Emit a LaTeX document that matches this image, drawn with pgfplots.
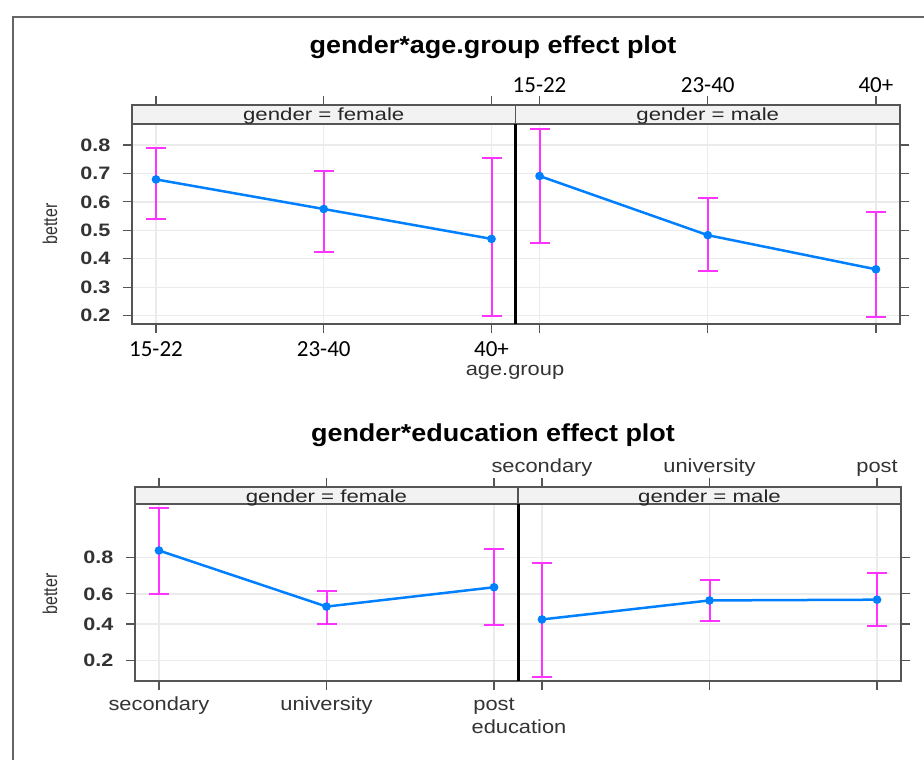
\documentclass[border=0pt]{standalone}
\usepackage{fontspec}
\setmainfont{Liberation Sans}
\newfontfamily\carl{Carlito}
\usepackage{pgfplots}
\pgfplotsset{compat=1.18}

\definecolor{fitblue}{HTML}{0080FF}
\definecolor{cimag}{HTML}{FF33FF}
\definecolor{gridgray}{HTML}{EBEBEB}
\definecolor{stripgray}{HTML}{F2F2F2}
\definecolor{framegray}{HTML}{555555}

\newcommand{\fs}[1]{\fontsize{#1}{#1}\selectfont}

\tikzset{strip/.style={fill=stripgray, draw=framegray, line width=1.5bp}}

\pgfplotsset{
  panel/.style={
    scale only axis, anchor=south west, clip=false,
    xmin=0.857, xmax=3.143, xtick={1,2,3},
    tick align=outside, major tick length=9bp,
    tick style={framegray, line width=1.2bp},
    axis line style={framegray, line width=1.5bp},
    grid=major, grid style={gridgray, line width=1.3bp},
    yticklabel style={font=\bfseries\fs{18bp}, xscale=1.2, text=black!80, xshift=-7bp},
  },
  agepanel/.style={panel, height=219bp,
    ymin=0.1708, ymax=0.9406,
    ytick={0.2,0.3,0.4,0.5,0.6,0.7,0.8},
    xticklabels={15-22,23-40,40+},
    xticklabel style={font=\carl\fs{23bp}, text=black},
  },
  edupanel/.style={panel, height=194bp,
    y coord trafo/.code={\pgfmathparse{ln(##1/(1-##1))}},
    y coord inv trafo/.code={\pgfmathparse{1/(1+exp(-##1))}},
    ymin=0.1244, ymax=0.9637,
    ytick={0.2,0.4,0.6,0.8},
    xticklabels={secondary,university,post},
    xticklabel style={font=\fs{19bp}, xscale=1.15, text=black!80,
      text height=13bp, text depth=4bp},
  },
  ci/.style={cimag, line width=2bp, mark=-, mark size=10bp, unbounded coords=jump},
  fit/.style={fitblue, line width=2.5bp, mark=*, mark size=3bp, mark options={fill=fitblue}},
}

\begin{document}
\begin{tikzpicture}
\useasboundingbox (0,0) rectangle (924bp,760bp);
\draw[framegray!90, line width=2bp] (13bp,0) -- (13bp,743bp) -- (924bp,743bp);

% ---------- gender*age.group ----------
\node[font=\bfseries\fs{24.5bp}, xscale=1.1] at (493bp,713bp) {gender*age.group effect plot};

\begin{axis}[agepanel, name=tl, at={(132bp,436bp)}, width=383.5bp,
  xticklabel pos=lower, xtick pos=both, ytick pos=left,
  xticklabel style={yshift=-5bp},
  yticklabels={0.2,0.3,0.4,0.5,0.6,0.7,0.8}]
  \addplot[ci] coordinates {(1,0.54) (1,0.789) (2,nan) (2,0.425) (2,0.71) (3,nan) (3,0.20) (3,0.754)};
  \addplot[fit] coordinates {(1,0.679) (2,0.575) (3,0.47)};
  \path[strip] (rel axis cs:0,0.9132) rectangle (rel axis cs:1,1);
  \node[font=\fs{17.5bp}, xscale=1.27, text=black!85] at (rel axis cs:0.5,0.950) {gender = female};
\end{axis}

\begin{axis}[agepanel, name=tr, at={(515.5bp,436bp)}, width=384.5bp,
  xticklabel pos=upper, xtick pos=both, ytick pos=right, yticklabels={}]
  \addplot[ci] coordinates {(1,0.457) (1,0.855) (2,nan) (2,0.358) (2,0.613) (3,nan) (3,0.196) (3,0.566)};
  \addplot[fit] coordinates {(1,0.691) (2,0.483) (3,0.363)};
  \path[strip] (rel axis cs:0,0.9132) rectangle (rel axis cs:1,1);
  \node[font=\fs{17.5bp}, xscale=1.27, text=black!85] at (rel axis cs:0.5,0.950) {gender = male};
\end{axis}
\draw[black, line width=3bp] (515.5bp,436bp) -- (515.5bp,636bp);

\node[font=\fs{19bp}, xscale=1.15, text=black!80] at (515bp,388bp) {age.group};
\node[font=\fs{20bp}, rotate=90, xscale=0.8, text=black!80] at (50bp,536bp) {better};

% ---------- gender*education ----------
\node[font=\bfseries\fs{24.5bp}, xscale=1.1] at (493bp,325bp) {gender*education effect plot};

\begin{axis}[edupanel, name=bl, at={(135bp,79bp)}, width=383bp,
  xticklabel pos=lower, xtick pos=both, ytick pos=left,
  xticklabel style={yshift=-4bp},
  yticklabels={0.2,0.4,0.6,0.8}]
  \addplot[ci] coordinates {(1,0.602) (1,0.938) (2,nan) (2,0.403) (2,0.621) (3,nan) (3,0.397) (3,0.832)};
  \addplot[fit] coordinates {(1,0.828) (2,0.516) (3,0.642)};
  \path[strip] (rel axis cs:0,0.9124) rectangle (rel axis cs:1,1);
  \node[font=\fs{17.5bp}, xscale=1.27, text=black!85] at (rel axis cs:0.5,0.945) {gender = female};
\end{axis}

\begin{axis}[edupanel, name=br, at={(518bp,79bp)}, width=383bp,
  xticklabel pos=upper, xtick pos=both, ytick pos=right, yticklabels={},
  xticklabel style={yshift=-2bp}]
  \addplot[ci] coordinates {(1,0.138) (1,0.776) (2,nan) (2,0.421) (2,0.685) (3,nan) (3,0.386) (3,0.723)};
  \addplot[fit] coordinates {(1,0.43) (2,0.557) (3,0.562)};
  \path[strip] (rel axis cs:0,0.9124) rectangle (rel axis cs:1,1);
  \node[font=\fs{17.5bp}, xscale=1.27, text=black!85] at (rel axis cs:0.5,0.945) {gender = male};
\end{axis}
\draw[black, line width=3bp] (518bp,79bp) -- (518bp,256bp);

\node[font=\fs{19bp}, xscale=1.15, text=black!80] at (519bp,33bp) {education};
\node[font=\fs{20bp}, rotate=90, xscale=0.8, text=black!80] at (50bp,166bp) {better};
\end{tikzpicture}
\end{document}
